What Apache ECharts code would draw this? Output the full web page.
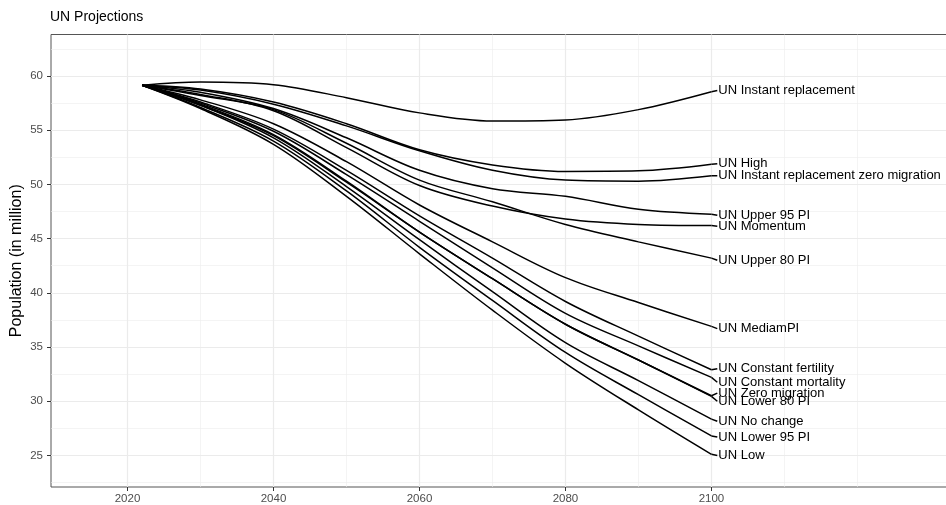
<!DOCTYPE html>
<html><head><meta charset="utf-8">
<script src="https://cdn.jsdelivr.net/npm/echarts@6/dist/echarts.min.js"></script>
<style>html,body{margin:0;padding:0;background:#fff}#c{width:946px;height:505px}</style>
</head><body><div id="c"></div>
<script>
const years = [2022, 2030, 2040, 2050, 2060, 2070, 2080, 2090, 2100];
const seriesNames = [
  'UN Instant replacement', 'UN High', 'UN Instant replacement zero migration',
  'UN Upper 95 PI', 'UN Momentum', 'UN Upper 80 PI', 'UN MediamPI',
  'UN Constant fertility', 'UN Constant mortality', 'UN Zero migration',
  'UN Lower 80 PI', 'UN No change', 'UN Lower 95 PI', 'UN Low'
];
const instantReplacement   = [59.15, 59.45, 59.2, 58.0, 56.6, 55.85, 55.95, 56.9, 58.55];
const high                 = [59.15, 58.8, 57.6, 55.6, 53.2, 51.8, 51.2, 51.25, 51.85];
const instantReplZeroMig   = [59.15, 58.7, 57.4, 55.4, 53.1, 51.3, 50.4, 50.3, 50.8];
const upper95              = [59.15, 58.5, 57.0, 54.3, 51.3, 49.6, 48.9, 47.7, 47.25];
const momentum             = [59.15, 58.3, 56.8, 53.4, 49.9, 48.0, 46.8, 46.3, 46.2];
const upper80              = [59.15, 58.2, 56.9, 53.8, 50.4, 48.4, 46.3, 44.7, 43.2];
const medium               = [59.15, 57.8, 55.6, 52.1, 48.1, 44.7, 41.4, 39.1, 36.9];
const constantFertility    = [59.15, 57.6, 55.1, 51.3, 47.1, 43.2, 39.2, 36.0, 32.9];
const constantMortality    = [59.15, 57.5, 54.9, 50.9, 46.6, 42.3, 38.1, 35.1, 32.2];
const zeroMigration        = [59.15, 57.3, 54.5, 50.2, 45.6, 41.3, 37.1, 33.8, 30.5];
const lower80              = [59.15, 57.4, 54.6, 50.3, 45.6, 41.3, 37.1, 33.8, 30.45];
const noChange             = [59.15, 57.3, 54.3, 49.8, 44.9, 40.1, 35.4, 31.9, 28.35];
const lower95              = [59.15, 57.1, 54.0, 49.4, 44.2, 39.3, 34.5, 30.6, 26.8];
const low                  = [59.15, 57.0, 53.7, 48.9, 43.6, 38.4, 33.5, 29.2, 25.1];
const allValues = [instantReplacement, high, instantReplZeroMig, upper95, momentum, upper80,
  medium, constantFertility, constantMortality, zeroMigration, lower80, noChange, lower95, low];

// repelled label anchor positions
const labelYear = 2100.8;
const labelValues = [58.67, 51.9, 50.8, 47.15, 46.15, 43.0, 36.7, 33.0, 31.75, 30.75, 30.0, 28.15, 26.7, 25.0];

const xTickLabels = [2020, 2040, 2060, 2080, 2100];
const xMinorGrid = [2030, 2050, 2070, 2090, 2110, 2120];
const yTickLabels = [25, 30, 35, 40, 45, 50, 55, 60];
const yMinorGrid = [22.5, 27.5, 32.5, 37.5, 42.5, 47.5, 52.5, 57.5, 62.5];

const FONT = 'Liberation Sans, Arial, sans-serif';
const chart = echarts.init(document.getElementById('c'), null, {renderer: 'canvas'});

const series = [];
// grid lines
series.push({
  type: 'line', data: [], silent: true, z: 1,
  markLine: {
    silent: true, symbol: 'none', animation: false, label: {show: false}, z: 1,
    data: [
      ...xMinorGrid.map(v => ({xAxis: v, lineStyle: {color: '#ededed', width: 0.6, type: 'solid'}})),
      ...yMinorGrid.map(v => ({yAxis: v, lineStyle: {color: '#ededed', width: 0.6, type: 'solid'}})),
      ...xTickLabels.map(v => ({xAxis: v, lineStyle: {color: '#ebebeb', width: 1.2, type: 'solid'}})),
      ...yTickLabels.map(v => ({yAxis: v, lineStyle: {color: '#ebebeb', width: 1.2, type: 'solid'}}))
    ]
  }
});
seriesNames.forEach((name, i) => {
  const vals = allValues[i];
  series.push({
    name: name, type: 'line', z: 3,
    data: years.map((y, k) => [y, vals[k]]),
    smooth: 0.35, showSymbol: false, symbol: 'none',
    lineStyle: {color: '#000', width: 1.5},
    animation: false
  });
  series.push({
    name: name, type: 'line', z: 3,
    data: [[years[years.length - 1], vals[vals.length - 1]], [labelYear, labelValues[i]]],
    showSymbol: false, symbol: 'none',
    lineStyle: {color: '#000', width: 1.5},
    endLabel: {show: true, formatter: '{a}', color: '#000', fontSize: 13, fontFamily: FONT, distance: 1},
    animation: false
  });
});

chart.setOption({
  backgroundColor: '#fff',
  animation: false,
  title: {text: 'UN Projections', left: 50, top: 10, padding: 0,
    textStyle: {fontSize: 14, fontWeight: 'normal', color: '#000', fontFamily: FONT}},
  grid: {left: 51, top: 34.5, right: -10, bottom: 18, outerBoundsMode: 'none', containLabel: false,
    show: true, borderColor: '#555', borderWidth: 1, backgroundColor: 'transparent'},
  xAxis: {
    type: 'value', min: 2009.52, max: 2133.5,
    axisLine: {show: false},
    splitLine: {show: false},
    axisTick: {show: true, customValues: xTickLabels, length: 4, lineStyle: {color: '#333'}},
    axisLabel: {customValues: xTickLabels, formatter: v => String(v), color: '#4d4d4d', fontSize: 11.5, fontFamily: FONT, margin: 6}
  },
  yAxis: {
    type: 'value', min: 22.085, max: 63.83,
    name: 'Population (in million)', nameLocation: 'middle', nameGap: 26, nameMoveOverlap: false,
    nameTextStyle: {fontSize: 16, color: '#000', fontFamily: FONT},
    axisLine: {show: false},
    splitLine: {show: false},
    axisTick: {show: true, customValues: yTickLabels, length: 4, lineStyle: {color: '#333'}},
    axisLabel: {customValues: yTickLabels, formatter: v => String(v), color: '#4d4d4d', fontSize: 11.5, fontFamily: FONT, margin: 8}
  },
  series: series
});
</script></body></html>
